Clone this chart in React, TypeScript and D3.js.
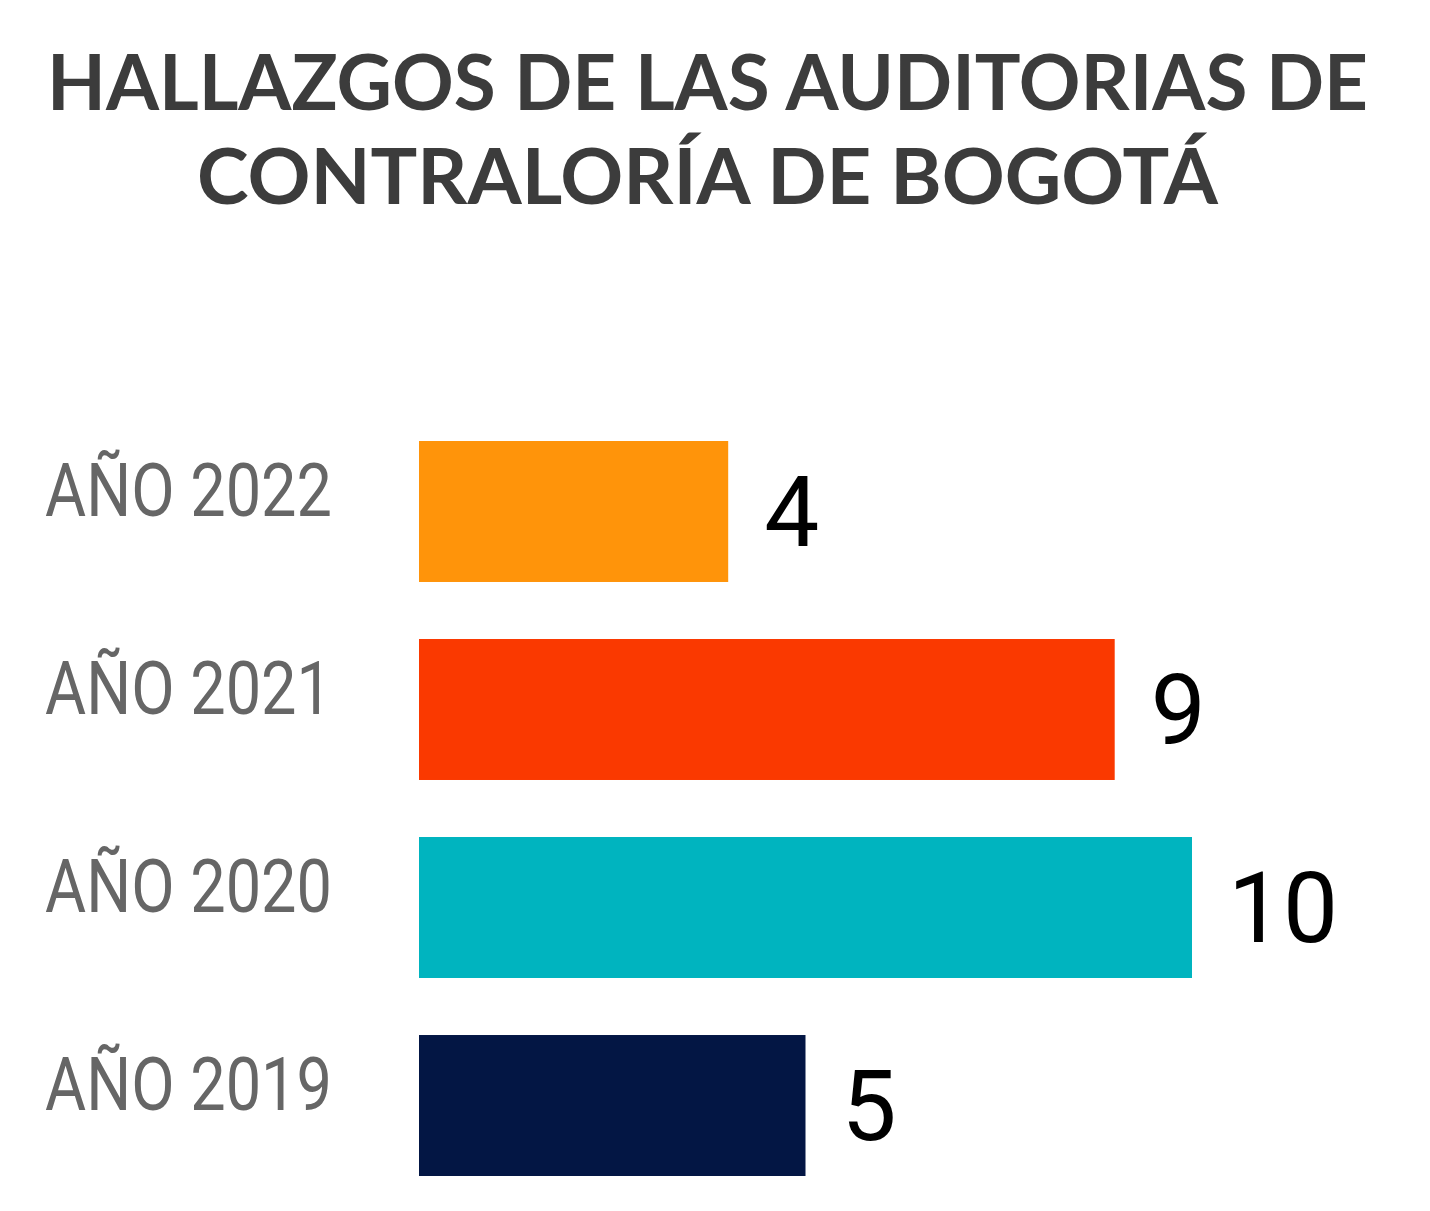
import React from "react";
import * as d3 from "d3";

const titleLines = ["HALLAZGOS DE LAS AUDITORIAS DE", "CONTRALORÍA DE BOGOTÁ"];
const categories = ["AÑO 2022", "AÑO 2021", "AÑO 2020", "AÑO 2019"];
const values = [4, 9, 10, 5];
const colors = ["#FF940A", "#FA3900", "#00B4BF", "#031644"];

const W = 1430;
const H = 1211;

export default function App() {
  const x = d3.scaleLinear().domain([0, 10]).range([419, 1192]);
  const y = d3
    .scaleBand<string>()
    .domain(categories)
    .range([441, 1176])
    .paddingInner(0.288)
    .paddingOuter(0);
  const bw = y.bandwidth();

  return (
    <svg
      width={W}
      height={H}
      style={{ position: "absolute", left: 0, top: 0, background: "#fff" }}
    >
      <rect x={0} y={0} width={W} height={H} fill="#fff" />
      <g fontFamily="Lato, 'Open Sans', sans-serif" fontWeight={700} fill="#3c3c3c">
        <text x={707.5} y={110} fontSize={76} textAnchor="middle" textLength={1321} lengthAdjust="spacingAndGlyphs">
          {titleLines[0]}
        </text>
        <text x={707.5} y={204} fontSize={76} textAnchor="middle" textLength={1021} lengthAdjust="spacingAndGlyphs">
          {titleLines[1]}
        </text>
      </g>
      {categories.map((c, i) => {
        const top = y(c) as number;
        return (
          <g key={c}>
            <rect x={x(0)} y={top} width={x(values[i]) - x(0)} height={bw} fill={colors[i]} />
            <text
              x={45}
              y={top + 75}
              fontFamily="Roboto, sans-serif"
              fontSize={75}
              fill="#666666"
              textLength={287}
              lengthAdjust="spacingAndGlyphs"
            >
              {c}
            </text>
            <text
              x={x(values[i]) + 36}
              y={top + 105}
              fontFamily="Roboto, sans-serif"
              fontSize={98}
              fill="#000"
            >
              {values[i]}
            </text>
          </g>
        );
      })}
    </svg>
  );
}
